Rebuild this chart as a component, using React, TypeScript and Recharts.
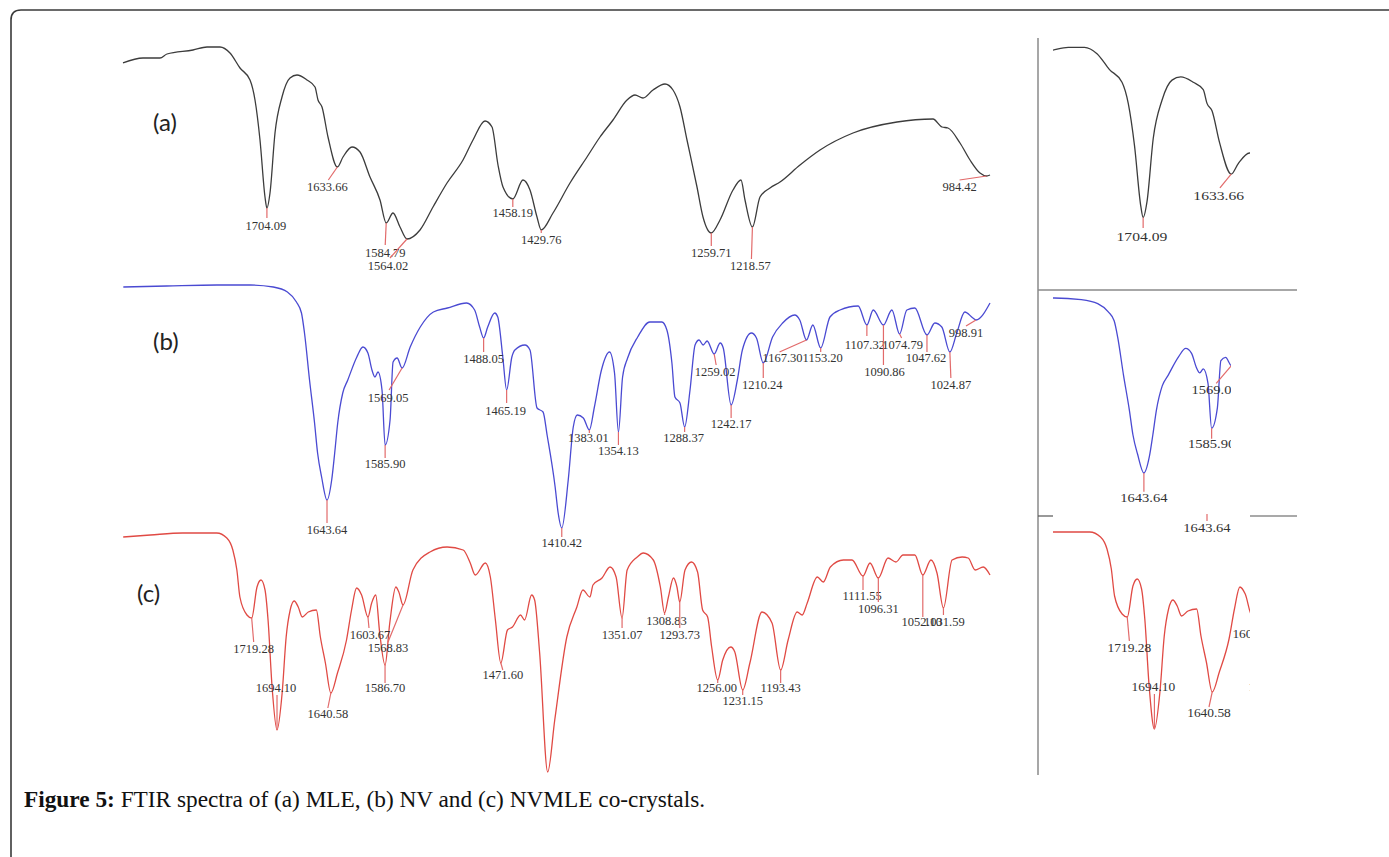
import React from 'react';
import { ComposedChart, Line, Scatter, XAxis, YAxis } from 'recharts';

type Pt = [number, number];

// ---- Spectrum (a) MLE : [wavenumber cm-1, transmittance a.u.]
const SPECTRUM_A: Pt[] = [
  [1848, 93.6], [1828, 96], [1811, 96], [1804, 98], [1778, 100], [1764, 101.5], [1751, 101.5], [1741, 98.5],
  [1731, 91], [1721, 85], [1716, 75], [1711, 55], [1706, 26.5], [1704.09, 21], [1701, 28.5], [1696, 58.5],
  [1689, 76.5], [1681, 86], [1674, 87.5], [1664, 85], [1656, 81.5], [1653, 75], [1649, 71.5], [1643, 56.5],
  [1633.66, 41.5], [1628, 46.5], [1619, 51.5], [1611, 49], [1601, 36.5], [1591, 25], [1584.79, 13.5], [1578, 18.5],
  [1571, 11.5], [1564.02, 5.5], [1551, 10], [1538, 21.5], [1524, 33.5], [1508, 45], [1498, 55], [1486, 64.5],
  [1479, 61.5], [1473, 42.5], [1468, 31.5], [1458.19, 25.5], [1448, 35], [1441, 30], [1434, 16.5], [1429.76, 10],
  [1418, 18.5], [1401, 33.5], [1384, 46.5], [1371, 56.5], [1358, 65], [1344, 75], [1336, 77.5], [1328, 76],
  [1318, 80], [1306, 83], [1298, 80], [1291, 71.5], [1284, 55], [1274, 31.5], [1268, 16.5], [1259.71, 8.5],
  [1251, 15], [1238, 30], [1230, 35], [1226, 25], [1218.57, 11.5], [1211, 26.5], [1201, 31], [1191, 34],
  [1171, 42.5], [1151, 50], [1118, 58.5], [1074, 64], [1038, 65.5], [1029, 61.5], [1023, 61], [1011, 53.5],
  [1001, 45], [991, 38.5], [984.42, 37], [981, 37.5],
];

// ---- Spectrum (b) NV
const SPECTRUM_B: Pt[] = [
  [1846, 124], [1803, 124.5], [1753, 125], [1720, 125], [1697, 124], [1683, 121.5], [1674, 116.5], [1669, 111],
  [1666, 101], [1661, 77.5], [1656, 56], [1653, 41], [1649, 29], [1643.64, 17.5], [1639, 27.5], [1636, 41],
  [1633, 56], [1628, 71], [1623, 77.5], [1614, 89], [1608, 94], [1603, 91], [1599, 82.5], [1596, 79],
  [1593, 81.5], [1589, 72.5], [1585.9, 45], [1581, 57.5], [1578, 86.5], [1574, 88.5], [1569.05, 83.5], [1561, 94],
  [1551, 104], [1538, 111.5], [1524, 113.5], [1505, 116], [1497, 112.5], [1492, 104], [1488.05, 98.5], [1484, 104],
  [1477, 111], [1474, 109], [1469, 89], [1465.19, 72.5], [1460, 89], [1457, 92.5], [1447, 95], [1442, 92.5],
  [1435, 63.5], [1429, 61.5], [1425, 50], [1417, 24], [1414, 11], [1410.42, 3.5], [1404, 27.5], [1399, 54],
  [1395, 60], [1389, 58.5], [1383.01, 52.5], [1378, 64], [1371, 82.5], [1363, 91.5], [1358, 81], [1354.13, 51.5],
  [1350, 79], [1345, 88.5], [1335, 99], [1323, 106.5], [1311, 106.5], [1306, 102.5], [1301, 86], [1298, 69],
  [1293, 66], [1288.37, 54], [1283, 72.5], [1278, 95], [1274, 97.5], [1270, 95], [1266, 97], [1259.02, 90.5],
  [1253, 96], [1250, 93.5], [1242.17, 65], [1236, 77.5], [1231, 92.5], [1222, 101], [1217, 98.5], [1210.24, 86],
  [1201, 99], [1191, 106], [1179, 110], [1174, 107.5], [1167.3, 97.5], [1161, 105], [1153.2, 93.5], [1144, 109],
  [1134, 112.5], [1116, 114.5], [1107.32, 105], [1101, 112.5], [1090.86, 105], [1082.5, 112.5], [1074.79, 100.5],
  [1067.6, 112.5], [1059.7, 113.5], [1047.62, 100], [1039.8, 106], [1032.9, 104], [1024.87, 91.5], [1018, 101],
  [1010, 111.5], [1002, 108.5], [998.91, 107.5], [985, 116],
];

// ---- Spectrum (c) NVMLE co-crystals
const SPECTRUM_C: Pt[] = [
  [1847, 121.5], [1820, 122.5], [1788, 123.5], [1754, 123.5], [1744, 121], [1738, 115], [1734, 105], [1731, 91.5],
  [1724, 82.5], [1719.28, 81], [1714, 96.5], [1710, 100], [1706, 95], [1703, 80], [1699, 46.5], [1694.1, 25],
  [1689, 43.5], [1685, 71.5], [1681, 85], [1677, 89.5], [1673, 86.5], [1669, 81.5], [1663, 84], [1655, 85],
  [1651, 71.5], [1646, 58.5], [1640.58, 43.5], [1634, 53.5], [1625, 70], [1620, 85], [1615, 96], [1610, 92.5],
  [1603.67, 81.5], [1600, 88.5], [1596, 92.5], [1592, 73.5], [1586.7, 57.5], [1582, 78.5], [1576, 96.5], [1573, 94],
  [1568.83, 87.5], [1559, 105], [1542, 114], [1525, 116.5], [1509, 115], [1502, 108.5], [1497, 102.5], [1487, 108.5],
  [1482, 101.5], [1477, 80], [1471.6, 58.5], [1465, 75], [1460, 76.5], [1452, 82.5], [1448, 80], [1441, 92.5],
  [1438, 90], [1433, 63.5], [1425, 4], [1418, 30], [1406, 71.5], [1396, 86.5], [1390, 95], [1383, 91.5],
  [1380, 97.5], [1371, 101], [1363, 106.5], [1357, 101.5], [1351.07, 81], [1346, 105], [1336, 111.5], [1330, 113.5],
  [1320, 110], [1313, 96.5], [1308.83, 83.5], [1305, 91.5], [1300, 101], [1296.5, 96.5], [1293.73, 89], [1288.5, 105],
  [1282, 109], [1276, 104], [1271, 85], [1266, 81.5], [1262, 66.5], [1256, 50], [1251, 60], [1243, 66.5],
  [1239, 64], [1231.15, 45], [1224, 58.5], [1212, 84], [1202, 78.5], [1193.43, 55], [1186, 70], [1177, 84],
  [1172, 82.5], [1167, 88.5], [1157, 101.5], [1151, 99], [1144, 106.5], [1131, 110], [1122.5, 110], [1111.55, 102],
  [1104.6, 108.5], [1096.31, 101], [1086.7, 111], [1078.8, 109], [1071.8, 112.5], [1060, 112.5], [1052.1, 102.5],
  [1044, 110], [1038, 103.5], [1031.59, 86], [1023, 110], [1013, 111.5], [1007, 111], [1000, 105], [992, 106.5],
  [985.3, 102.5],
];

// ---- Annotated peaks (cm-1)
const PEAKS_A = [1704.09, 1633.66, 1584.79, 1564.02, 1458.19, 1429.76, 1259.71, 1218.57, 984.42];
const PEAKS_B = [1643.64, 1585.9, 1569.05, 1488.05, 1465.19, 1410.42, 1383.01, 1354.13, 1288.37, 1259.02, 1242.17,
  1210.24, 1167.3, 1153.2, 1107.32, 1090.86, 1074.79, 1047.62, 1024.87, 998.91];
const PEAKS_C = [1719.28, 1694.1, 1640.58, 1603.67, 1586.7, 1568.83, 1471.6, 1351.07, 1308.83, 1293.73, 1256.0,
  1231.15, 1193.43, 1111.55, 1096.31, 1052.1, 1031.59];
// peaks whose labels fall inside the zoomed insets
const INSET_PEAKS_A = [1704.09, 1633.66];
const INSET_PEAKS_B = [1643.64, 1585.9, 1569.05];
const INSET_PEAKS_C = [1719.28, 1694.1, 1640.58, 1603.67, 1586.7];

// ---- Label layout: [tick dx, tick dy, label dx, label dy] in px relative to the peak point
type Off = [number, number, number, number];
const LAYOUT_A: Record<string, Off> = {
  '1704.09': [0, 10, -1, 18], '1633.66': [-9, 13, -10, 20], '1584.79': [-1, 22, -1, 30], '1564.02': [-17, 19, -19, 27],
  '1458.19': [0, 8, 0, 14], '1429.76': [0, 3, 0, 10], '1259.71': [0, 13, 0, 20], '1218.57': [-1, 32, -2, 39],
  '984.42': [-27, 4, -27, 11],
};
const LAYOUT_B: Record<string, Off> = {
  '1643.64': [0, 23, 0, 30], '1585.90': [0, 13, 0, 19], '1569.05': [-13, 22, -14, 30], '1488.05': [0, 14, 0, 21],
  '1465.19': [0, 13, -1, 21], '1410.42': [0, 9, 0, 15], '1383.01': [0, 3, -1, 8], '1354.13': [0, 13, 0, 19],
  '1288.37': [0, 5, -1, 11], '1259.02': [2, 11, 1, 18], '1242.17': [0, 13, 0, 19], '1210.24': [0, 15, -1, 22],
  '1167.30': [-27, 12, -24, 18], '1153.20': [0, 4, 2, 10], '1107.32': [0, 11, -2, 20], '1090.86': [0, 40, 1, 47],
  '1074.79': [2, 4, 3, 11], '1047.62': [0, 17, -1, 23], '1024.87': [1, 26, 1, 33], '998.91': [-10, 6, -10, 13],
};
const LAYOUT_C: Record<string, Off> = {
  '1719.28': [2, 24, 2, 31], '1694.10': [0, -35, -1, -42], '1640.58': [-3, 15, -3, 21], '1603.67': [1, 11, 2, 18],
  '1586.70': [0, 18, 0, 23], '1568.83': [-15, 37, -15, 43], '1471.60': [2, 7, 2, 12], '1351.07': [0, 10, 0, 17],
  '1308.83': [0, 2, 2, 8], '1293.73': [0, 26, 0, 33], '1256.00': [0, 3, -1, 8], '1231.15': [0, 5, 0, 11],
  '1193.43': [0, 13, 0, 18], '1111.55': [0, 14, -1, 20], '1096.31': [0, 24, 0, 31], '1052.10': [0, 42, -1, 47],
  '1031.59': [0, 7, 1, 14],
};

const COLOR_A = '#3c3c3c';
const COLOR_B = '#4a4ad2';
const COLOR_C = '#e04a44';
const TICK = '#e26a6a';
const LABEL_FONT = '"Liberation Serif", "Times New Roman", serif';

interface Box { x0: number; x1: number; y0: number; y1: number }
interface Clip { x: number; y: number; w: number; h: number }
interface PanelProps {
  data: Pt[]; peaks: number[]; layout: Record<string, Off>; color: string;
  xDomain: [number, number]; yDomain: [number, number]; box: Box; clip?: Clip; sx?: number; sy?: number;
}

function Panel(p: PanelProps) {
  const M = 30;
  const sx = p.sx ?? 1;
  const sy = p.sy ?? 1;
  const lineData = p.data.map(([wn, t]) => ({ wn, t }));
  const peakData = p.peaks.map((wn) => {
    const pt = p.data.find((d) => Math.abs(d[0] - wn) < 1e-6);
    return { wn, t: pt ? pt[1] : 0, label: wn.toFixed(2) };
  });
  const shape = (props: any) => {
    const { cx, cy, payload } = props;
    if (cx == null || cy == null) return <g />;
    const o = p.layout[payload.label] ?? [0, 10, 0, 17];
    const tx = cx + o[0] * sx, ty = cy + o[1] * sy;
    const lx = cx + o[2] * sx, ly = cy + o[3] * sy;
    return (
      <g>
        <line x1={cx} y1={cy} x2={tx} y2={ty} stroke={TICK} strokeWidth={1.2} />
        <text transform={`translate(${lx},${ly}) scale(${sx},1)`} x={0} y={0} textAnchor="middle"
          dominantBaseline="central" fontFamily={LABEL_FONT} fontSize={12.5} fill="#333">{payload.label}</text>
      </g>
    );
  };
  const w = p.box.x1 - p.box.x0 + 2 * M;
  const h = p.box.y1 - p.box.y0 + 2 * M;
  const left = p.box.x0 - M - (p.clip ? p.clip.x : 0);
  const top = p.box.y0 - M - (p.clip ? p.clip.y : 0);
  const chart = (
    <div style={{ position: 'absolute', left, top }}>
      <ComposedChart width={w} height={h} margin={{ top: M, right: M, bottom: M, left: M }}>
        <XAxis type="number" dataKey="wn" domain={p.xDomain} reversed hide />
        <YAxis type="number" domain={p.yDomain} hide />
        <Line data={lineData} dataKey="t" type="monotoneX" stroke={p.color} strokeWidth={1.3} dot={false}
          activeDot={false} isAnimationActive={false} />
        <Scatter data={peakData} dataKey="t" shape={shape} isAnimationActive={false} />
      </ComposedChart>
    </div>
  );
  if (!p.clip) return chart;
  return (
    <div style={{ position: 'absolute', left: p.clip.x, top: p.clip.y, width: p.clip.w, height: p.clip.h, overflow: 'hidden' }}>
      {chart}
    </div>
  );
}

export default function App() {
  const panelFont = 'Lato, "Open Sans", sans-serif';
  return (
    <div style={{ position: 'absolute', left: 0, top: 0, width: 1389, height: 857, overflow: 'hidden', background: '#fff' }}>
      {/* main spectra */}
      <Panel data={SPECTRUM_A} peaks={PEAKS_A} layout={LAYOUT_A} color={COLOR_A}
        xDomain={[981, 1849]} yDomain={[0, 105]} box={{ x0: 122, x1: 990, y0: 40, y1: 250 }} />
      <Panel data={SPECTRUM_B} peaks={PEAKS_B} layout={LAYOUT_B} color={COLOR_B}
        xDomain={[985, 1847.3]} yDomain={[0, 125]} box={{ x0: 122, x1: 990, y0: 285, y1: 535 }} />
      <Panel data={SPECTRUM_C} peaks={PEAKS_C} layout={LAYOUT_C} color={COLOR_C}
        xDomain={[985.3, 1848.2]} yDomain={[0, 125]} box={{ x0: 122, x1: 990, y0: 530, y1: 780 }} />
      {/* zoomed insets */}
      <Panel data={SPECTRUM_A} peaks={INSET_PEAKS_A} layout={LAYOUT_A} color={COLOR_A}
        xDomain={[981, 1849]} yDomain={[0, 105]} box={{ x0: 961.6, x1: 2046.6, y0: 39.6, y1: 261.4 }}
        clip={{ x: 1053, y: 30, w: 197, h: 255 }} sx={1.25} sy={1.056} />
      <Panel data={SPECTRUM_B} peaks={INSET_PEAKS_B} layout={LAYOUT_B} color={COLOR_B}
        xDomain={[985, 1847.3]} yDomain={[0, 125]} box={{ x0: 905.1, x1: 1916.6, y0: 298, y1: 501.5 }}
        clip={{ x: 1053, y: 292, w: 178, h: 220 }} sx={1.165} sy={0.814} />
      <Panel data={SPECTRUM_C} peaks={INSET_PEAKS_C} layout={LAYOUT_C} color={COLOR_C}
        xDomain={[985.3, 1848.2]} yDomain={[0, 125]} box={{ x0: 987.6, x1: 1919.5, y0: 529, y1: 779 }}
        clip={{ x: 1053, y: 519, w: 197, h: 280 }} sx={1.074} sy={1} />

      <svg width={1389} height={857} style={{ position: 'absolute', left: 0, top: 0, pointerEvents: 'none' }}>
        <path d="M 11 857 L 11 20 Q 11 10 21 10 L 1389 10" fill="none" stroke="#3a3a3a" strokeWidth={1.6} />
        <line x1={1038} y1={38} x2={1038} y2={775} stroke="#8a8a8a" strokeWidth={1.5} />
        <line x1={1038} y1={290} x2={1297} y2={290} stroke="#8a8a8a" strokeWidth={1.5} />
        <line x1={1038} y1={516} x2={1053} y2={516} stroke="#555" strokeWidth={1.2} />
        <line x1={1250} y1={516} x2={1297} y2={516} stroke="#555" strokeWidth={1.2} />
        <line x1={1207} y1={514} x2={1207} y2={521} stroke={TICK} strokeWidth={1.2} />
        <text x={1207} y={528} textAnchor="middle" dominantBaseline="central" fontFamily={LABEL_FONT}
          fontSize={12.5} fill="#333" transform="translate(1207,528) scale(1.165,1) translate(-1207,-528)">1643.64</text>
        <text x={153} y={131} fontFamily={panelFont} fontSize={24} fill="#222">(a)</text>
        <text x={153} y={350} fontFamily={panelFont} fontSize={24} fill="#222">(b)</text>
        <text x={137} y={602} fontFamily={panelFont} fontSize={24} fill="#222">(c)</text>
        <text x={24} y={807} fontFamily={LABEL_FONT} fontSize={23.3} fill="#111">
          <tspan fontWeight="bold">Figure 5:</tspan> FTIR spectra of (a) MLE, (b) NV and (c) NVMLE co-crystals.
        </text>
      </svg>
    </div>
  );
}
